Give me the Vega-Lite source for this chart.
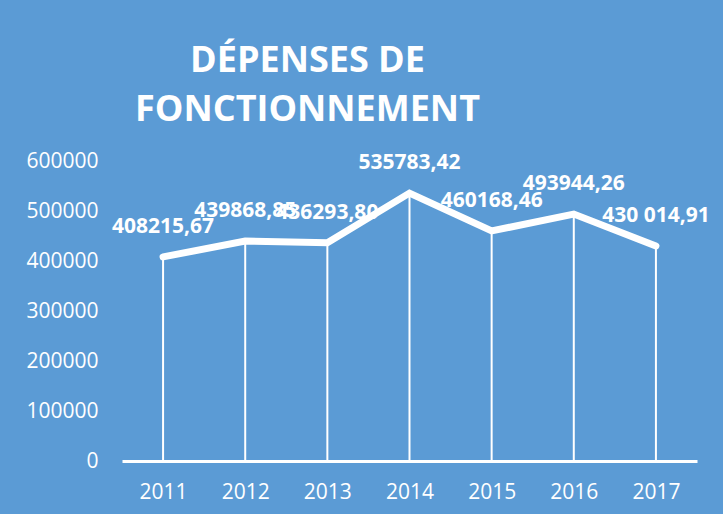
{
  "$schema": "https://vega.github.io/schema/vega-lite/v6.json",
  "width": 575,
  "height": 300,
  "autosize": {"type": "none"},
  "padding": {"left": 122, "top": 161, "right": 26, "bottom": 53},
  "background": "#5B9BD5",
  "config": {"view": {"stroke": null}},
  "title": {
    "text": ["DÉPENSES DE", "FONCTIONNEMENT"],
    "font": "Open Sans",
    "fontWeight": "bold",
    "fontSize": 36,
    "color": "white",
    "anchor": "middle",
    "frame": "group",
    "dx": -102,
    "offset": 21,
    "lineHeight": 49
  },
  "data": {
    "values": [
      {"year": "2011", "value": 408215.67, "label": "408215,67"},
      {"year": "2012", "value": 439868.85, "label": "439868,85"},
      {"year": "2013", "value": 436293.80, "label": "436293,80"},
      {"year": "2014", "value": 535783.42, "label": "535783,42"},
      {"year": "2015", "value": 460168.46, "label": "460168,46"},
      {"year": "2016", "value": 493944.26, "label": "493944,26"},
      {"year": "2017", "value": 430014.91, "label": "430 014,91"}
    ]
  },
  "encoding": {
    "x": {
      "field": "year",
      "type": "ordinal",
      "scale": {"type": "point", "padding": 0.5},
      "axis": {
        "title": null,
        "labelAngle": 0,
        "ticks": false,
        "grid": false,
        "domainColor": "white",
        "domainWidth": 3,
        "labelColor": "white",
        "labelFont": "Open Sans",
        "labelFontSize": 21,
        "labelPadding": 20
      }
    },
    "y": {
      "field": "value",
      "type": "quantitative",
      "scale": {"domain": [0, 600000], "nice": false},
      "axis": {
        "title": null,
        "values": [0, 100000, 200000, 300000, 400000, 500000, 600000],
        "format": "d",
        "domain": false,
        "ticks": false,
        "grid": false,
        "labelColor": "white",
        "labelFont": "Open Sans",
        "labelFontSize": 21,
        "labelPadding": 24
      }
    }
  },
  "layer": [
    {
      "mark": {"type": "rule", "color": "white", "strokeWidth": 2},
      "encoding": {"y2": {"datum": 0}}
    },
    {
      "mark": {"type": "line", "color": "white", "strokeWidth": 7, "strokeCap": "round", "strokeJoin": "miter"}
    },
    {
      "mark": {"type": "text", "color": "white", "font": "Open Sans", "fontWeight": "bold", "fontSize": 21, "dy": -30, "baseline": "middle"},
      "encoding": {"text": {"field": "label"}}
    }
  ]
}
